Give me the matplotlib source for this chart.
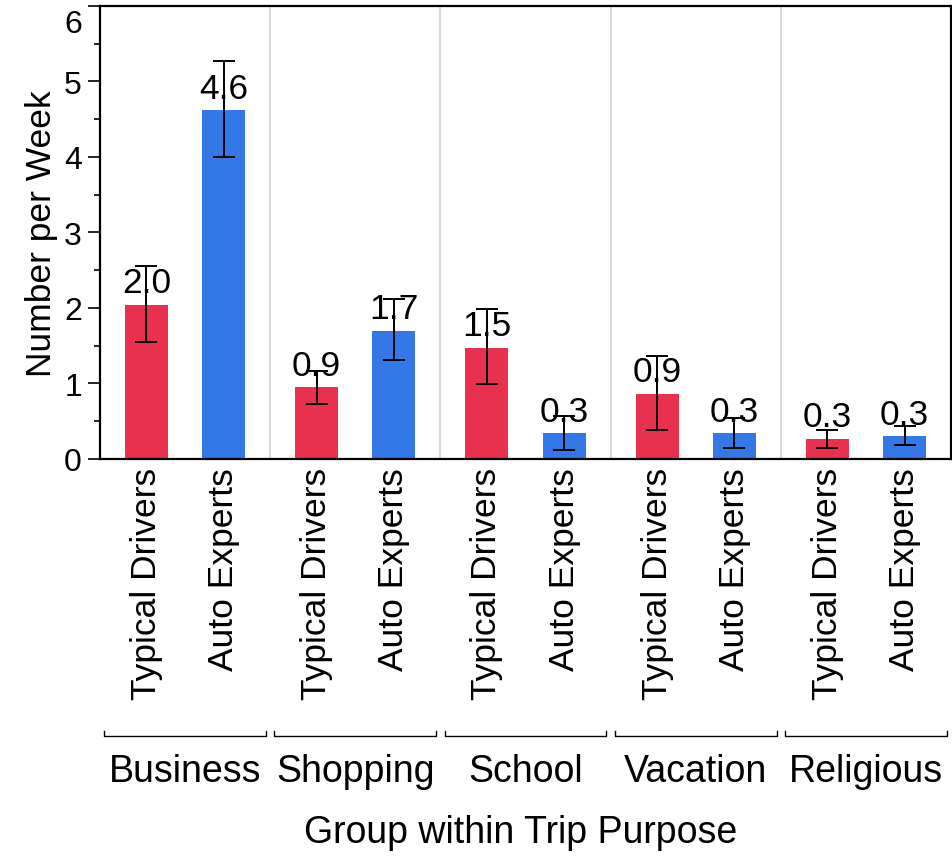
import numpy as np
import matplotlib.pyplot as plt
from matplotlib.ticker import MultipleLocator, FuncFormatter
from matplotlib.transforms import blended_transform_factory

plt.rcParams['font.family'] = ['Liberation Sans', 'DejaVu Sans']

# trips per week by purpose and driver group, with error bar ends
purposes = ["Business", "Shopping", "School", "Vacation", "Religious"]
groups = ["Typical Drivers", "Auto Experts"]
typical = [2.04, 0.95, 1.47, 0.86, 0.27]
typical_lo = [1.55, 0.73, 0.99, 0.38, 0.15]
typical_hi = [2.55, 1.16, 1.98, 1.36, 0.39]
experts = [4.62, 1.70, 0.34, 0.34, 0.30]
experts_lo = [4.00, 1.31, 0.12, 0.15, 0.18]
experts_hi = [5.27, 2.12, 0.57, 0.54, 0.44]
y_max = 6

red = "#E8314F"
blue = "#3478E8"

fig = plt.figure(figsize=(9.52, 8.62), dpi=100)
ax = fig.add_axes([0.105, 0.4664, 0.894, 0.5256])

centers = np.arange(len(purposes)) + 0.5
offset = 0.227
width = 0.253

series = [
    (centers - offset, typical, typical_lo, typical_hi, red),
    (centers + offset, experts, experts_lo, experts_hi, blue),
]
for xs, vals, lo, hi, color in series:
    vals = np.array(vals)
    err = [vals - np.array(lo), np.array(hi) - vals]
    ax.bar(xs, vals, width=width, color=color, zorder=2)
    ax.errorbar(xs, vals, yerr=err, fmt="none", ecolor="black",
                elinewidth=1.4, capsize=8, capthick=1.4, zorder=4)
    for x, v in zip(xs, vals):
        ax.annotate(f"{v:.1f}", (x, v), xytext=(0, 4), textcoords="offset points",
                    ha="center", va="bottom", fontsize=25.5, zorder=3)

# light separators between trip purposes
for b in range(1, len(purposes)):
    ax.axvline(b, color="#d4d4d4", lw=1.2, zorder=1)

ax.set_xlim(0, len(purposes))
ax.set_ylim(0, y_max)
ax.yaxis.set_major_locator(MultipleLocator(1))
ax.yaxis.set_minor_locator(MultipleLocator(0.5))
# the top label is drawn below its tick so it stays inside the figure
ax.yaxis.set_major_formatter(FuncFormatter(lambda v, _: "" if v >= y_max else f"{v:g}"))
ax.tick_params(axis="y", which="major", length=9, width=1.2, labelsize=23, pad=4)
ax.tick_params(axis="y", which="minor", length=4, width=1.2)
ax.annotate(f"{y_max:g}", xy=(0, y_max), xycoords=("axes fraction", "data"),
            xytext=(-13, -2), textcoords="offset points",
            ha="right", va="top", fontsize=23, annotation_clip=False)
ax.set_ylabel("Number per Week", fontsize=25.5, labelpad=4)

tick_x = np.concatenate([[c - offset, c + offset] for c in centers])
ax.set_xticks(tick_x)
ax.set_xticklabels(groups * len(purposes), rotation=90, fontsize=25.5)
ax.tick_params(axis="x", length=0, pad=6)

for s in ax.spines.values():
    s.set_linewidth(1.6)

# group brackets and purpose labels under the rotated tick labels
trans = blended_transform_factory(ax.transData, fig.transFigure)
y_br = 1 - 737 / 862
tick_h = 5 / 862
for i, name in enumerate(purposes):
    x0, x1 = i + 0.025, i + 0.975
    ax.plot([x0, x0, x1, x1], [y_br + tick_h, y_br, y_br, y_br + tick_h],
            color="black", lw=1.0, transform=trans, clip_on=False)
    fig.text(centers[i], 1 - 772 / 862, name, transform=trans,
             ha="center", va="center", fontsize=27)

fig.text(0.105 + 0.894 / 2 - 0.005, 1 - 833 / 862, "Group within Trip Purpose",
         ha="center", va="center", fontsize=27)

fig.savefig("out.png", dpi=100)
